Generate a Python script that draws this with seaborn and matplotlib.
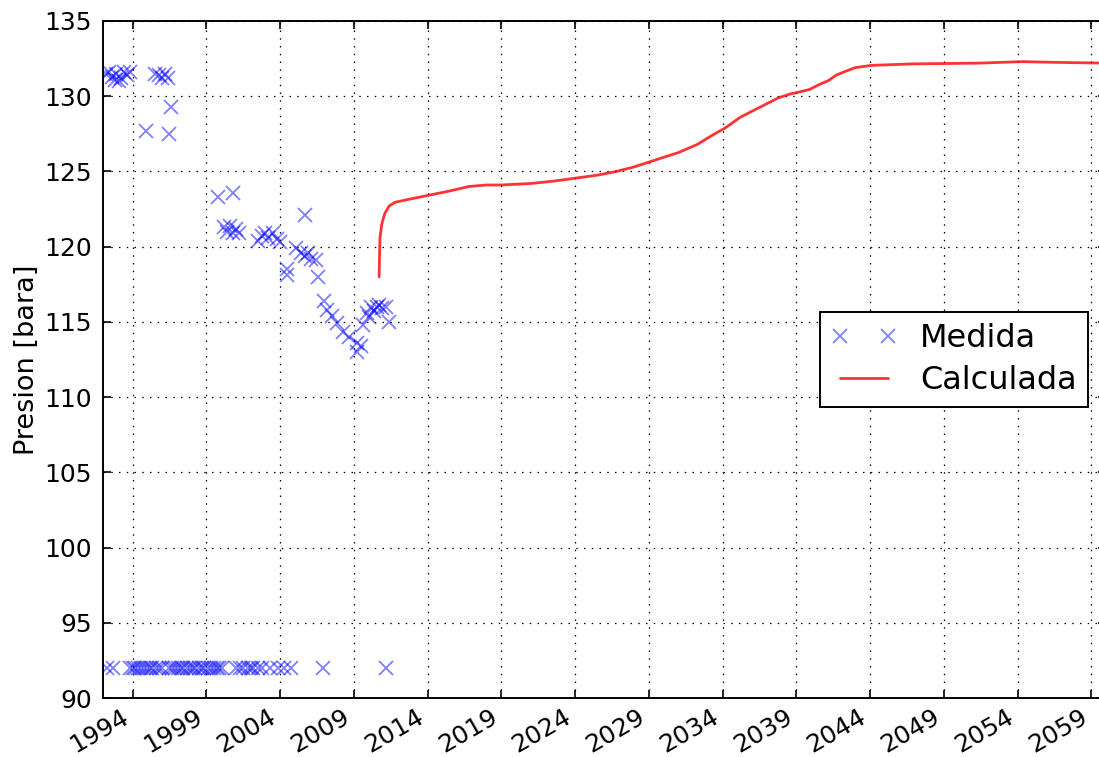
import numpy as np
import pandas as pd
import seaborn as sns
import matplotlib
matplotlib.use("Agg")
import matplotlib.pyplot as plt

# measured pressure (decimal year, bara)
medida_anio = [
    1992.2, 1992.4, 1992.6, 1992.8, 1992.9, 1993.1, 1993.2, 1993.4, 1993.6, 1993.8,
    1995.5, 1995.8, 1996.0, 1996.2, 1996.4,
    1994.9, 1996.5, 1996.6,
    1999.8, 2000.8,
    2000.2, 2000.4, 2000.6, 2000.8, 2001.0, 2001.2,
    2002.5, 2002.8, 2003.0, 2003.2, 2003.5, 2003.8, 2004.0,
    2005.7, 2004.45, 2004.5,
    2005.1, 2005.4, 2005.7, 2005.9, 2006.1, 2006.45, 2006.55,
    2007.0, 2007.2, 2007.5, 2007.85, 2008.25, 2008.7, 2009.2, 2009.25, 2009.5,
    2009.6, 2009.9, 2010.0, 2010.2, 2010.4, 2010.55, 2010.7, 2010.9, 2011.2, 2011.4,
]
medida_pres = [
    131.5, 131.6, 131.3, 131.1, 131.5, 131.0, 131.2, 131.6, 131.4, 131.6,
    131.5, 131.4, 131.2, 131.5, 131.2,
    127.7, 127.5, 129.3,
    123.3, 123.55,
    121.3, 121.0, 121.4, 120.9, 121.2, 120.9,
    120.4, 120.7, 120.9, 120.6, 120.9, 120.5, 120.3,
    122.1, 118.5, 118.1,
    119.9, 119.6, 119.4, 119.6, 119.2, 119.1, 118.0,
    116.4, 115.8, 115.4, 114.9, 114.3, 114.0, 113.6, 113.0, 113.4,
    114.8, 115.6, 115.3, 116.0, 115.7, 116.0, 116.1, 115.9, 116.0, 115.0,
]
# dates with no valid reading, plotted at 92 bara
fallo_anio = [
    1992.3, 1992.65,
    1993.8, 1994.0, 1994.15, 1994.4, 1994.6, 1994.75, 1995.0, 1995.2, 1995.35,
    1995.6, 1995.8, 1996.0, 1996.45, 1996.7, 1996.85, 1997.1, 1997.3, 1997.45,
    1997.7, 1997.9, 1998.1, 1998.25, 1998.5, 1998.7, 1998.85, 1999.1, 1999.3,
    1999.5, 1999.7, 1999.85, 2000.1,
    2001.0, 2001.3, 2001.5, 2001.8, 2002.0, 2002.2, 2002.5, 2002.8,
    2003.3, 2003.85, 2004.3, 2004.75,
    2006.9, 2011.2,
]
fallo_pres = [92.0] * len(fallo_anio)

# simulated pressure
calc_anio = [
    2010.72, 2010.75, 2010.78, 2010.9, 2011.1, 2011.4, 2011.8, 2012.5, 2014.0,
    2015.5, 2016.8, 2018.0, 2019.0, 2021.0, 2022.5, 2024.0, 2025.5, 2026.8,
    2028.0, 2029.1, 2030.2, 2031.0, 2032.3, 2033.3, 2034.2, 2035.2, 2036.0,
    2036.8, 2037.8, 2038.6, 2039.5, 2039.9, 2040.5, 2041.2, 2041.7, 2042.2,
    2043.0, 2044.1, 2046.9, 2051.4, 2054.3, 2056.6, 2060.0,
]
calc_pres = [
    118.0, 119.5, 120.6, 121.5, 122.2, 122.7, 122.95, 123.1, 123.4,
    123.7, 124.0, 124.1, 124.1, 124.2, 124.35, 124.55, 124.75, 125.0,
    125.3, 125.65, 126.0, 126.25, 126.8, 127.4, 127.9, 128.6, 129.0,
    129.4, 129.9, 130.15, 130.35, 130.45, 130.75, 131.05, 131.4, 131.6,
    131.9, 132.05, 132.15, 132.2, 132.3, 132.25, 132.2,
]

anios_tick = [1994, 1999, 2004, 2009, 2014, 2019, 2024, 2029, 2034, 2039, 2044, 2049, 2054, 2059]

med = pd.DataFrame({"anio": medida_anio + fallo_anio, "pres": medida_pres + fallo_pres})
calc = pd.DataFrame({"anio": calc_anio, "pres": calc_pres})

sns.set_style("ticks", rc={"text.color": "black", "axes.labelcolor": "black",
                           "xtick.color": "black", "ytick.color": "black"})
plt.rcParams["font.family"] = ["DejaVu Sans"]

fig = plt.figure(figsize=(10.99, 7.57), dpi=100)
ax = fig.add_axes([103 / 1099, 59 / 757, 1003 / 1099, 677 / 757])

# markers only, no connecting line
sns.lineplot(data=med, x="anio", y="pres", marker="x", linestyle="", color="blue",
             alpha=0.5, ms=9.5, mew=1.3, mec="blue", estimator=None, sort=False,
             ax=ax, label="Medida")
sns.lineplot(data=calc, x="anio", y="pres", color="red", alpha=0.8, lw=2,
             ax=ax, label="Calculada", estimator=None, sort=False)

ax.set_xlim(1992.0, 2060.0)
ax.set_ylim(90, 135)
ax.set_yticks(np.arange(90, 136, 5))
ax.set_xticks(anios_tick)
ax.set_xticklabels([str(a) for a in anios_tick], rotation=30, ha="right")
ax.set_xlabel("")
ax.set_ylabel("Presion [bara]", fontsize=19.5, labelpad=3)

ax.grid(True, color="k", linestyle=(0, (1.2, 5)), linewidth=0.9)
ax.tick_params(direction="in", length=6, width=1.2, labelsize=18,
               top=True, right=True)
ax.tick_params(axis="y", pad=8)
ax.tick_params(axis="x", pad=5)
for sp in ax.spines.values():
    sp.set_linewidth(1.4)
    sp.set_color("black")

leg = ax.legend(loc="center right", bbox_to_anchor=(0.982, 0.5), fontsize=23,
                numpoints=2, handlelength=2.1, handletextpad=0.7,
                fancybox=False, framealpha=1, edgecolor="black",
                borderaxespad=0, borderpad=0.35, labelspacing=0.35)
leg.get_frame().set_linewidth(1.4)

fig.savefig("out.png", dpi=100)
